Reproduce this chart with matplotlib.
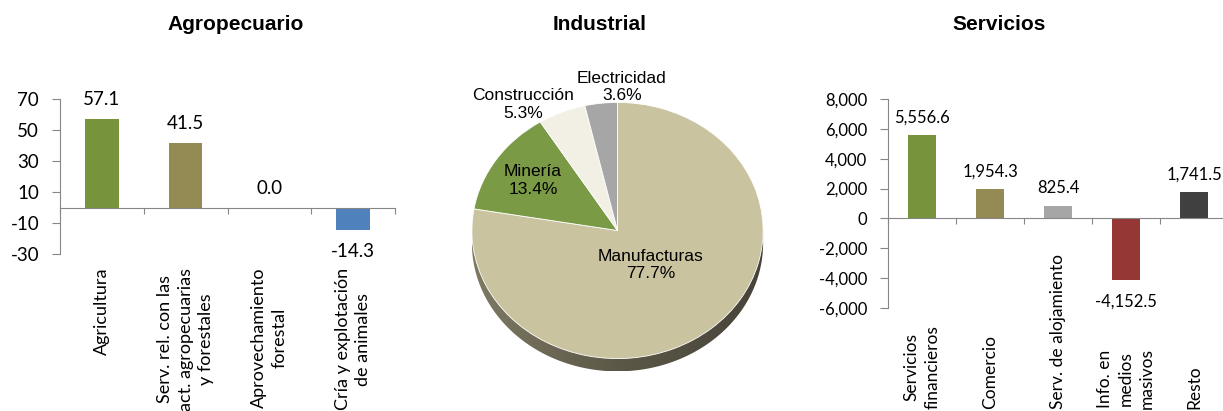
import numpy as np
import matplotlib
matplotlib.use('Agg')
import matplotlib.pyplot as plt
import matplotlib.transforms as mtransforms
from matplotlib.patches import Polygon
from matplotlib.colors import LinearSegmentedColormap
from matplotlib.ticker import FuncFormatter

# datos
agro_cats = ['Agricultura', 'Serv. rel. con las\nact. agropecuarias\ny forestales',
             'Aprovechamiento\nforestal', 'Cría y explotación\nde animales']
agro_vals = [57.1, 41.5, 0.0, -14.3]
agro_colors = ['#77933C', '#948A54', '#77933C', '#4F81BD']
agro_ticks = [70, 50, 30, 10, -10, -30]

ind_cats = ['Manufacturas', 'Minería', 'Construcción', 'Electricidad']
ind_vals = [77.7, 13.4, 5.3, 3.6]
ind_colors = ['#C9C3A0', '#7A9A45', '#F2F0E5', '#A6A6A6']

serv_cats = ['Servicios\nfinancieros', 'Comercio', 'Serv. de alojamiento',
             'Info. en\nmedios\nmasivos', 'Resto']
serv_vals = [5556.6, 1954.3, 825.4, -4152.5, 1741.5]
serv_colors = ['#77933C', '#948A54', '#A6A6A6', '#953735', '#404040']
serv_ticks = list(range(-6000, 8001, 2000))

AXIS = '#868686'
plt.rcParams['font.family'] = ['Lato', 'DejaVu Sans']

fig = plt.figure(figsize=(12.23, 4.11), dpi=100)


def bar_panel(rect, cats, vals, colors, ticks, tfmt, vfmt, fs, fs_cat,
              cat_y, cat_va, offs):
    ax = fig.add_axes(rect)
    x = np.arange(len(cats))
    ax.bar(x, vals, width=0.4, color=colors)
    ax.set_xlim(-0.5, len(cats) - 0.5)
    ax.set_ylim(min(ticks), max(ticks))
    ax.set_yticks(ticks)
    ax.yaxis.set_major_formatter(FuncFormatter(lambda v, p: tfmt.format(v)))
    ax.set_xticks(np.arange(len(cats) + 1) - 0.5)
    ax.set_xticklabels([])
    ax.spines[['top', 'right']].set_visible(False)
    ax.spines['bottom'].set_position(('data', 0))
    for s in ('left', 'bottom'):
        ax.spines[s].set_color(AXIS)
    ax.tick_params(axis='y', direction='out', length=6, color=AXIS,
                   labelsize=fs, pad=9)
    ax.tick_params(axis='x', direction='out', length=4, color=AXIS)
    ax.patch.set_alpha(0)
    tr = mtransforms.blended_transform_factory(ax.transData, ax.transAxes)
    for i, c in enumerate(cats):
        ax.text(i, cat_y, c, transform=tr, rotation=90, ha='center', va=cat_va,
                multialignment='center', fontsize=fs_cat, linespacing=1.35)
    for i, v in enumerate(vals):
        off = offs[0] if v >= 0 else -offs[1]
        ax.annotate(vfmt.format(v), (i, v), xytext=(0, off),
                    textcoords='offset points', ha='center', va='center',
                    fontsize=fs)
    return ax


bar_panel([60 / 1223, 157 / 411, 335 / 1223, 155 / 411], agro_cats, agro_vals,
          agro_colors, agro_ticks, '{:.0f}', '{:.1f}', 13.5, 13,
          -0.09, 'top', (14, 16))
bar_panel([888 / 1223, 103 / 411, 340 / 1223, 209 / 411], serv_cats, serv_vals,
          serv_colors, serv_ticks, '{:,.0f}', '{:,.1f}', 12, 12.5,
          -0.485, 'bottom', (13, 15))

# pastel con canto
axp = fig.add_axes([435.5 / 1223, 14 / 411, 364 / 1223, 333 / 411])
d = 0.1
t = np.linspace(np.pi, 2 * np.pi, 120)
side = np.vstack([np.column_stack([np.cos(t), np.sin(t) - d]), [(1, 0), (-1, 0)]])
poly = Polygon(side, closed=True, facecolor='none', edgecolor='none')
axp.add_patch(poly)
cmap = LinearSegmentedColormap.from_list('canto', ['#7e7963', '#5c5847', '#47433a'])
im = axp.imshow(np.linspace(0, 1, 256).reshape(1, -1), cmap=cmap,
                extent=(-1, 1, -1 - d, 0), aspect='auto', zorder=1)
im.set_clip_path(poly)
wedges, _ = axp.pie(ind_vals, colors=ind_colors, startangle=90, counterclock=False,
                    wedgeprops=dict(edgecolor='white', linewidth=0.6))
for w in wedges:
    w.set_zorder(2)
axp.set_aspect('auto')
axp.set_xlim(-1.25, 1.25)
axp.set_ylim(-1.3, 1.3)
axp.axis('off')

lab_pos = [(0.35, 0), (0.7, 0), (1.18, 11), (1.12, -8)]
for w, name, v, (r, shift) in zip(wedges, ind_cats, ind_vals, lab_pos):
    a = np.deg2rad((w.theta1 + w.theta2) / 2 + shift)
    axp.text(r * np.cos(a), r * np.sin(a), f'{name}\n{v:.1f}%', ha='center',
             va='center', fontsize=12.5, family='Liberation Sans', zorder=3)

for xc, title in [(236, 'Agropecuario'), (600, 'Industrial'), (999, 'Servicios')]:
    fig.text(xc / 1223, 1 - 30 / 411, title, ha='center', va='baseline',
             fontsize=15, fontweight='bold', family='Liberation Sans')

fig.savefig('out.png', dpi=100)
